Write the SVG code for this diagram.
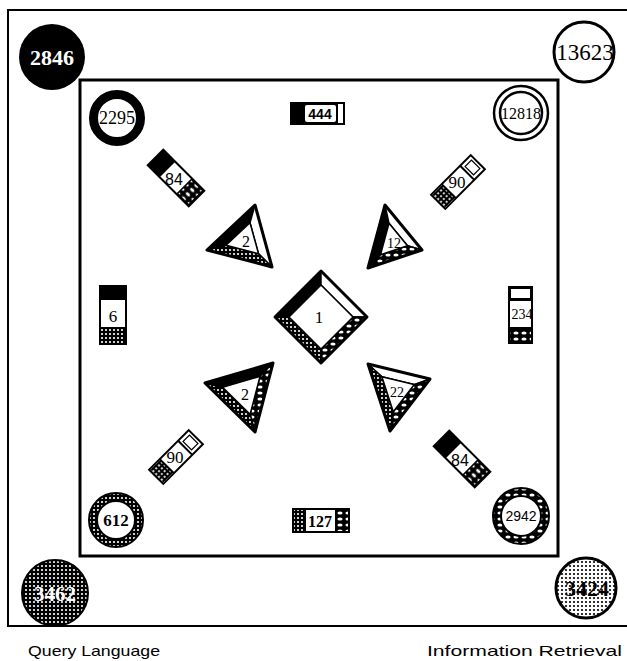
<svg xmlns="http://www.w3.org/2000/svg" width="627" height="661" viewBox="0 0 627 661">
<style>
.serif{font-family:"Liberation Serif","Times New Roman",serif;text-anchor:middle}
.sans{font-family:"Liberation Sans",Arial,sans-serif;text-anchor:middle}
.lbl{font-family:"Liberation Sans",Arial,sans-serif;font-size:15px}
.b{stroke:#000;stroke-width:1.5;stroke-linejoin:round}
.o{fill:none;stroke:#000;stroke-width:3;stroke-linejoin:round}
.w{fill:#fff}
.k{fill:#000}
.d{fill:url(#dots)}
.c{fill:url(#chain)}
</style>
<defs>
<pattern id="dots" width="4" height="4" patternUnits="userSpaceOnUse"><rect width="4" height="4" fill="#000"/><circle cx="2" cy="2" r="1.1" fill="#fff"/></pattern>
<pattern id="chain" width="8" height="6" patternUnits="userSpaceOnUse"><rect width="8" height="6" fill="#000"/><ellipse cx="4" cy="3" rx="2.6" ry="1.5" fill="#fff"/></pattern>
<pattern id="light" width="4" height="4" patternUnits="userSpaceOnUse"><rect width="4" height="4" fill="#fff"/><circle cx="2" cy="2" r="1.1" fill="#000"/></pattern>
</defs>
<rect width="627" height="661" fill="#fff"/>
<g id="frames">
<path d="M627,10 H8 V626 H627" fill="none" stroke="#000" stroke-width="2"/>
<rect x="80" y="80" width="478" height="476" fill="none" stroke="#000" stroke-width="3"/>
</g>
<g id="connectors"></g>

<g id="c2846"><circle cx="52" cy="57" r="33" fill="#000"/><text x="52" y="65" class="serif" font-size="22" font-weight="bold" fill="#fff">2846</text></g>
<g id="c13623"><circle cx="584" cy="52" r="30" fill="#fff" stroke="#000" stroke-width="3"/><text x="585" y="60" class="serif" font-size="23">13623</text></g>
<g id="c3462"><circle cx="55" cy="593" r="33" fill="url(#dots)" stroke="#000" stroke-width="2"/><text x="55" y="601" class="serif" font-size="21" font-weight="bold" fill="#fff">3462</text></g>
<g id="c3424"><circle cx="586" cy="588" r="30" fill="url(#light)" stroke="#000" stroke-width="3"/><text x="587" y="596" class="serif" font-size="22" font-weight="bold">3424</text></g>

<g id="c2295"><circle cx="117" cy="118" r="23.5" fill="#fff" stroke="#000" stroke-width="9"/><text x="117" y="124" class="serif" font-size="18" textLength="36" lengthAdjust="spacingAndGlyphs">2295</text></g>
<g id="c12818"><circle cx="521" cy="113" r="27" fill="#fff" stroke="#000" stroke-width="2.5"/><circle cx="521" cy="113" r="21" fill="#fff" stroke="#000" stroke-width="2.5"/><text x="521" y="119" class="serif" font-size="16">12818</text></g>
<g id="c612"><circle cx="116" cy="520" r="23" fill="none" stroke="url(#dots)" stroke-width="8"/><circle cx="116" cy="520" r="27" fill="none" stroke="#000" stroke-width="2"/><circle cx="116" cy="520" r="19" fill="#fff" stroke="#000" stroke-width="2"/><text x="116" y="526" class="serif" font-size="17" font-weight="bold">612</text></g>
<g id="c2942"><circle cx="521" cy="516" r="24" fill="none" stroke="url(#chain)" stroke-width="8"/><circle cx="521" cy="516" r="28" fill="none" stroke="#000" stroke-width="2"/><circle cx="521" cy="516" r="20" fill="#fff" stroke="#000" stroke-width="2"/><text x="521" y="521" class="sans" font-size="14">2942</text></g>

<g id="r444">
<rect x="290" y="102" width="55" height="23" fill="#000"/>
<rect x="305" y="105" width="31" height="17" rx="2" fill="#fff"/>
<rect x="338" y="104" width="5" height="19" fill="#fff"/>
<text x="320" y="119" class="sans" font-size="14" font-weight="bold">444</text>
</g>
<g id="r127">
<rect x="292" y="508" width="58" height="25" fill="#000"/>
<rect x="294" y="510" width="10" height="21" class="d"/>
<rect x="306" y="510" width="29" height="21" fill="#fff"/>
<rect x="337" y="510" width="11" height="21" class="c"/>
<text x="320" y="527" class="serif" font-size="16" font-weight="bold">127</text>
</g>
<g id="r6">
<rect x="100" y="286" width="26" height="58" fill="#fff" stroke="#000" stroke-width="2"/>
<rect x="100" y="286" width="26" height="14" fill="#000"/>
<rect x="101" y="329" width="24" height="14" class="d"/>
<line x1="100" y1="328" x2="126" y2="328" stroke="#000" stroke-width="2"/>
<text x="113" y="322" class="serif" font-size="17">6</text>
</g>
<g id="r234">
<rect x="508" y="286" width="25" height="58" fill="#000"/>
<rect x="511" y="289" width="19" height="9" fill="#fff"/>
<rect x="510" y="301" width="21" height="26" fill="#fff"/>
<rect x="510" y="330" width="21" height="12" class="c"/>
<text x="522" y="319" class="serif" font-size="14">234</text>
</g>

<g id="r84a">
<g transform="translate(176,178) rotate(45)">
<rect x="-29" y="-11" width="58" height="22" fill="#fff" stroke="#000" stroke-width="2"/>
<rect x="-29" y="-11" width="17" height="22" fill="#000"/>
<rect x="12" y="-10" width="16" height="20" class="c" stroke="#000" stroke-width="1.5"/>
</g>
<text x="174" y="185" class="sans" font-size="16">84</text>
</g>
<g id="r84b">
<g transform="translate(462,459) rotate(45)">
<rect x="-29" y="-11" width="58" height="22" fill="#fff" stroke="#000" stroke-width="2"/>
<rect x="-29" y="-11" width="17" height="22" fill="#000"/>
<rect x="12" y="-10" width="16" height="20" class="c" stroke="#000" stroke-width="1.5"/>
</g>
<text x="460" y="466" class="sans" font-size="16">84</text>
</g>
<g id="r90a">
<g transform="translate(458,182) rotate(-45)">
<rect x="-28" y="-10" width="56" height="20" fill="#fff" stroke="#000" stroke-width="2"/>
<rect x="-27" y="-9" width="14" height="18" class="d"/>
<line x1="-13" y1="-10" x2="-13" y2="10" stroke="#000" stroke-width="2"/>
<line x1="13" y1="-10" x2="13" y2="10" stroke="#000" stroke-width="2"/>
<rect x="16" y="-6" width="9" height="12" fill="#fff" stroke="#000" stroke-width="1.2"/>
</g>
<text x="457" y="188" class="serif" font-size="17">90</text>
</g>
<g id="r90b">
<g transform="translate(176,457) rotate(-45)">
<rect x="-28" y="-10" width="56" height="20" fill="#fff" stroke="#000" stroke-width="2"/>
<rect x="-27" y="-9" width="14" height="18" class="d"/>
<line x1="-13" y1="-10" x2="-13" y2="10" stroke="#000" stroke-width="2"/>
<line x1="13" y1="-10" x2="13" y2="10" stroke="#000" stroke-width="2"/>
<rect x="16" y="-6" width="9" height="12" fill="#fff" stroke="#000" stroke-width="1.2"/>
</g>
<text x="175" y="463" class="serif" font-size="17">90</text>
</g>

<g id="t2a">
<polygon points="207,250 255,205 250,222.7 226,245.2" class="b k"/>
<polygon points="255,205 272,267 258.5,253.7 250,222.7" class="b w"/>
<polygon points="272,267 207,250 226,245.2 258.5,253.7" class="b d"/>
<polygon points="226,245.2 250,222.7 258.5,253.7" class="b w"/>
<polygon points="207,250 255,205 272,267" class="o"/>
<text x="246" y="247" class="serif" font-size="16">2</text>
</g>
<g id="t12">
<polygon points="385,205 368,268 380.5,254.8 389,223.3" class="b k"/>
<polygon points="385,205 422,250 407.5,245.8 389,223.3" class="b w"/>
<polygon points="368,268 422,250 407.5,245.8 380.5,254.8" class="b c"/>
<polygon points="389,223.3 407.5,245.8 380.5,254.8" class="b w"/>
<polygon points="385,205 368,268 422,250" class="o"/>
<text x="394" y="248" class="serif" font-size="14">12</text>
</g>
<g id="t2b">
<polygon points="205,383 273,363 260,376.4 222.6,387.4" class="b k"/>
<polygon points="273,363 255,432 250.1,414.4 260,376.4" class="b c"/>
<polygon points="255,432 205,383 222.6,387.4 250.1,414.4" class="b d"/>
<polygon points="222.6,387.4 260,376.4 250.1,414.4" class="b w"/>
<polygon points="205,383 273,363 255,432" class="o"/>
<text x="245" y="400" class="serif" font-size="16">2</text>
</g>
<g id="t22">
<polygon points="368,364 430,379 414.1,384.6 381.9,376.8" class="b w"/>
<polygon points="430,379 390,431 393.3,411.7 414.1,384.6" class="b c"/>
<polygon points="390,431 368,364 381.9,376.8 393.3,411.7" class="b d"/>
<polygon points="381.9,376.8 414.1,384.6 393.3,411.7" class="b w"/>
<polygon points="368,364 430,379 390,431" class="o"/>
<text x="397" y="397" class="serif" font-size="14">22</text>
</g>
<g id="d1" transform="translate(321,317)">
<polygon points="-46,0 0,-46 0,-32 -32,0" class="b k"/>
<polygon points="0,-46 46,0 32,0 0,-32" class="b w"/>
<polygon points="46,0 0,46 0,32 32,0" class="b c"/>
<polygon points="0,46 -46,0 -32,0 0,32" class="b d"/>
<polygon points="0,-32 32,0 0,32 -32,0" class="b w"/>
<polygon points="0,-46 46,0 0,46 -46,0" class="o"/>
<text x="-2" y="6" class="serif" font-size="17">1</text>
</g>

<text x="28" y="656" class="lbl" textLength="132" lengthAdjust="spacingAndGlyphs">Query Language</text>
<text x="427" y="656" class="lbl" textLength="195" lengthAdjust="spacingAndGlyphs">Information  Retrieval</text>
</svg>
